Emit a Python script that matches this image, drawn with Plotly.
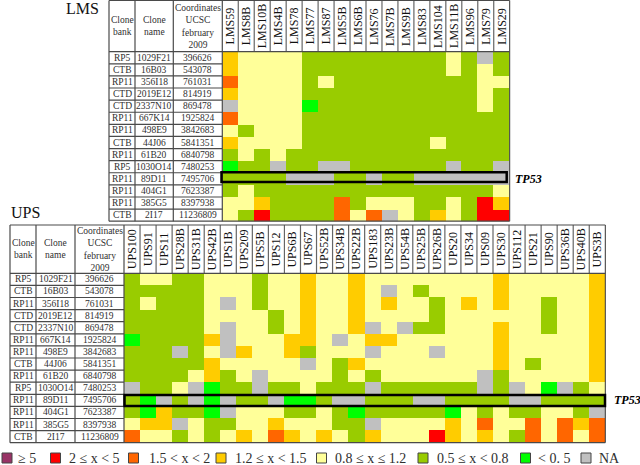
"""
LMS / UPS clone copy-number tables, drawn as two categorical heatmaps
"""

import plotly.graph_objects as go

WIDTH, HEIGHT = 640, 465

CLONE_BANK = ["RP5", "CTB", "RP11", "CTD", "CTD", "RP11", "RP11", "CTB", "RP11",
              "RP5", "RP11", "RP11", "RP11", "CTB"]
CLONE_NAME = ["1029F21", "16B03", "356I18", "2019E12", "2337N10", "667K14", "498E9",
              "44J06", "61B20", "1030O14", "89D11", "404G1", "385G5", "2I17"]
COORDINATES = ["396626", "543078", "761031", "814919", "869478", "1925824", "3842683",
               "5841351", "6840798", "7480253", "7495706", "7623387", "8397938", "11236809"]

LMS_SAMPLES = ["LMS59", "LMS8B", "LMS10B", "LMS4B", "LMS78", "LMS77", "LMS87", "LMS5B",
               "LMS6B", "LMS76", "LMS7B", "LMS9B", "LMS83", "LMS104", "LMS11B", "LMS96",
               "LMS79", "LMS29"]
UPS_SAMPLES = ["UPS100", "UPS91", "UPS11", "UPS28B", "UPS31B", "UPS42B", "UPS1B", "UPS209",
               "UPS5B", "UPS12", "UPS6B", "UPS67", "UPS52B", "UPS34B", "UPS22B", "UPS183",
               "UPS23B", "UPS54B", "UPS25B", "UPS26B", "UPS20", "UPS34", "UPS09", "UPS30",
               "UPS112", "UPS21", "UPS90", "UPS36B", "UPS40B", "UPS3B"]

# one letter per cell, see CLASS_CODES
LMS_CELLS = [
    "AYYYYGGGGGGGGGYGNG",
    "AYYYYGGGGGGGGGYGYG",
    "OYYYYGYGGGGGGGGGYY",
    "AYYYYGGGGGGGGGGGYG",
    "NYYYYLGGGGGGGGGGYG",
    "OYYYYGGGGGGGGGGGGG",
    "YGYYYGGGGGGGGGGGGG",
    "AYYYYGGGGGGGGYGGGG",
    "GYGYGGGGGGGGGGGGGG",
    "LGGNGGNNGGGGGGNGGN",
    "GGGGNNNGGNGGNNNNNN",
    "GYGGGGGGGGGGGGGGGY",
    "YYAGGGGOGYYYGGYGRA",
    "YGRGGGGOYONYGAYGRR",
]
UPS_CELLS = [
    "GYYGGYYYGYYAYYAYYYYYYYYAYYYYYA",
    "GGGGGYYYGYYAYYAYNYGYYYYAYYYYYA",
    "GYGGGYNYGYYAYYAYAYYGYAYAYYGYYA",
    "GGGGGYYYYGYAYYAYYYYGYYYYYYGYYA",
    "GGGGGYNYYGYAYYANYNGGYYYAYYGYYA",
    "LGGGGANYYYAAYNYAAYYYYYYAYYYYYA",
    "GGGNGYNAYYAGYYYNYYYNYYYAYYYYYA",
    "GGGGGAYYYYYNYGAYYYYYYYYAYGYYYA",
    "GGGGYAGYNYYYYGYGYYYYYYNGYYYYYA",
    "NGGYNLGGNGGYGGGNGGGGGGNGNYLNGY",
    "GLNGNLNGGNLLGNNGGGNNGGGGNNGGGG",
    "GLAGGLNYYYGGYGLGGGGGLYGYGGYYGN",
    "YAANYGGYYAYYYGGNYYYYAYOYYOYOAO",
    "OYYGYGYAYOAYAYGAYYYRAYAYGOYOYO",
]

CLASS_CODES = ["P", "R", "O", "A", "Y", "G", "L", "N"]
CLASS_COLORS = ["#993366", "#FF0000", "#FF6600", "#FFCC00", "#FFFF99", "#99CC00", "#00FF00", "#C0C0C0"]
CLASS_LABELS = ["≥ 5", "2 ≤ x < 5", "1.5 < x < 2", "1.2 ≤ x < 1.5", "0.8 ≤ x ≤ 1.2",
                "0.5 ≤ x < 0.8", "< 0. 5", "NA"]
LEGEND_BOX_X = [2, 50.5, 128.5, 216, 316.5, 418, 520.5, 581]
LEGEND_TEXT_X = [16, 67, 147, 233, 333, 435, 536, 597]

SERIF = "Liberation Serif"
LINE = "#4a4a4a"
TEXT = "#2f2f2f"
TP53_ROW = 10


def fx(px):
    return px / WIDTH


def fy(px):
    return 1 - px / HEIGHT


def to_codes(rows):
    return [[CLASS_CODES.index(c) for c in row] for row in rows]


def colorscale():
    n = len(CLASS_COLORS)
    scale = []
    for i, c in enumerate(CLASS_COLORS):
        scale += [[i / n, c], [(i + 1) / n, c]]
    return scale


def add_block(fig, axis, samples, cells, title, title_pos, table_x, left, right, top, head, bottom,
              box, tp53_x):
    """One heatmap with its clone table on the left and the TP53 box on top"""
    suffix = "" if axis == 1 else str(axis)
    xref, yref = "x" + suffix, "y" + suffix
    rows = len(COORDINATES)
    cols = len(samples)

    fig.add_trace(go.Heatmap(
        z=to_codes(cells), x=samples, y=CLONE_NAME,
        zmin=-0.5, zmax=len(CLASS_CODES) - 0.5,
        colorscale=colorscale(), showscale=False,
        xaxis=xref, yaxis=yref,
        xgap=0, ygap=0,
    ))
    fig.update_layout({
        "xaxis" + suffix: dict(domain=[fx(left), fx(right)], type="category", range=[-0.5, cols - 0.5],
                               anchor=yref, showticklabels=False, showgrid=False, zeroline=False, ticks=""),
        "yaxis" + suffix: dict(domain=[fy(bottom), fy(head)], type="category", range=[rows - 0.5, -0.5],
                               anchor=xref, showticklabels=False, showgrid=False, zeroline=False, ticks=""),
    })

    line = dict(color=LINE, width=1.2)
    # table outline: verticals over clone columns and sample header
    for x in table_x + [left]:
        fig.add_shape(type="line", xref="paper", yref="paper", x0=fx(x), x1=fx(x),
                      y0=fy(top), y1=fy(bottom), line=line)
    fig.add_shape(type="line", xref="paper", yref="paper", x0=fx(right), x1=fx(right),
                  y0=fy(top), y1=fy(bottom), line=dict(color="#333333", width=1))
    for i in range(1, cols):
        fig.add_shape(type="line", xref=xref, yref="paper", x0=i - 0.5, x1=i - 0.5,
                      y0=fy(top), y1=fy(head), line=dict(color="#666666", width=1.2))
    for y in (top, head, bottom):
        fig.add_shape(type="line", xref="paper", yref="paper", x0=fx(table_x[0]), x1=fx(right),
                      y0=fy(y), y1=fy(y), line=line)
    for i in range(1, rows):
        fig.add_shape(type="line", xref="paper", yref=yref, x0=fx(table_x[0]), x1=fx(left),
                      y0=i - 0.5, y1=i - 0.5, line=line)

    # TP53 box, slightly off the cell grid as in the original
    fig.add_shape(type="rect", xref="paper", yref="paper", x0=fx(box[0]), x1=fx(box[1]),
                  y0=fy(box[2]), y1=fy(box[3]), line=dict(color="black", width=2.5))

    def note(text, x, y, xr="paper", yr="paper", size=9.5, angle=0, color=TEXT):
        fig.add_annotation(text=text, x=x, y=y, xref=xr, yref=yr, showarrow=False,
                           textangle=angle, xanchor="center", yanchor="middle",
                           font=dict(family=SERIF, size=size, color=color))

    # clone table text
    centers = [(table_x[i] + (table_x + [left])[i + 1]) / 2 for i in range(3)]
    mid = (top + head) / 2
    note("Clone<br>bank", fx(centers[0]), fy(mid))
    note("Clone<br>name", fx(centers[1]), fy(mid))
    note("Coordinates<br>UCSC<br>february<br>2009", fx(centers[2]), fy(mid))
    for i in range(rows):
        # row index here: numeric-looking strings are not read as categories
        note(CLONE_BANK[i], fx(centers[0]), i, yr=yref)
        note(CLONE_NAME[i], fx(centers[1]), i, yr=yref)
        note(COORDINATES[i], fx(centers[2]), i, yr=yref)

    for s in samples:
        note(s, s, fy(mid), xr=xref, size=12, angle=-90, color="#111111")

    note(title, fx(title_pos[0]), fy(title_pos[1]), size=16, color="#111111")
    fig.add_annotation(text="<b><i>TP53</i></b>", x=fx(tp53_x), y=TP53_ROW, xref="paper", yref=yref,
                       showarrow=False, xanchor="left", yanchor="middle",
                       font=dict(family=SERIF, size=12, color="black"))


fig = go.Figure()

add_block(fig, 1, LMS_SAMPLES, LMS_CELLS, "LMS", (82, 8),
          [109, 135, 173.3], 222.3, 509.7, 0.5, 51.7, 221.2,
          (221.5, 506.7, 172.2, 182), 513)
add_block(fig, 2, UPS_SAMPLES, UPS_CELLS, "UPS", (25, 212),
          [10, 36, 75], 124, 605.3, 225, 273.3, 442.7,
          (124.5, 605, 395, 406), 611.5)

# legend along the bottom
for x, c in zip(LEGEND_BOX_X, CLASS_COLORS):
    fig.add_shape(type="rect", xref="paper", yref="paper", x0=fx(x), x1=fx(x + 10),
                  y0=fy(453), y1=fy(463), fillcolor=c, line=dict(color="#444444", width=1))
for x, label in zip(LEGEND_TEXT_X, CLASS_LABELS):
    fig.add_annotation(text=label, x=fx(x), y=fy(458), xref="paper", yref="paper", showarrow=False,
                       xanchor="left", yanchor="middle",
                       font=dict(family=SERIF, size=14, color=TEXT))

fig.update_layout(
    width=WIDTH, height=HEIGHT,
    margin=dict(l=0, r=0, t=0, b=0),
    paper_bgcolor="white", plot_bgcolor="white",
    showlegend=False,
)

fig.write_html("out.html", config={"displayModeBar": False},
               post_script="document.body.style.margin='0';")
